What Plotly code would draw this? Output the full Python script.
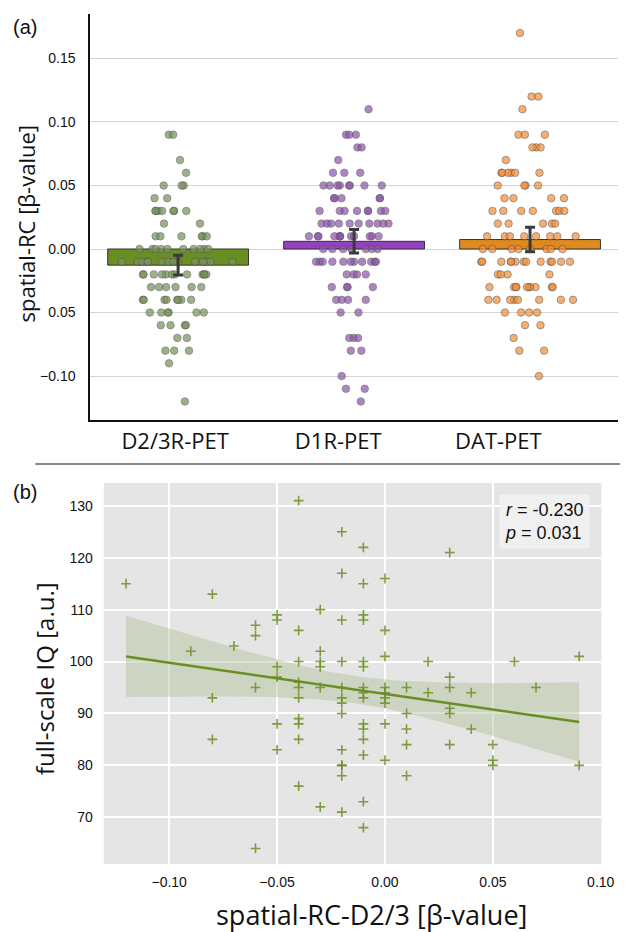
import numpy as np
import plotly.graph_objects as go

# ---------------- Panel (a) data ----------------
categories = ["D2/3R-PET", "D1R-PET", "DAT-PET"]
label_offsets = [-0.017, -0.09, -0.18]

d23_values = [0.09, 0.09, 0.07, 0.06, 0.05, 0.05, 0.05, 0.04, 0.04,
              0.03, 0.03, 0.03, 0.03, 0.03, 0.03, 0.03, 0.02, 0.02,
              0.01, 0.01, 0.01, 0.01, 0.01, 0.01,
              0.00, 0.00, 0.00, 0.00, 0.00, 0.00, 0.00, 0.00, 0.00, 0.00,
              -0.01, -0.01, -0.01, -0.01, -0.01, -0.01, -0.01, -0.01,
              -0.01, -0.01, -0.01, -0.01, -0.01, -0.01, -0.01, -0.01,
              -0.02, -0.02, -0.02, -0.02, -0.02, -0.02, -0.02, -0.02,
              -0.02, -0.02, -0.02, -0.02,
              -0.03, -0.03, -0.03, -0.03, -0.03, -0.03,
              -0.04, -0.04, -0.04, -0.04, -0.04, -0.04, -0.04, -0.04,
              -0.05, -0.05, -0.05, -0.05, -0.05, -0.05,
              -0.06, -0.06, -0.06, -0.06, -0.07, -0.07,
              -0.08, -0.08, -0.08, -0.09, -0.12]

d1r_values = [0.11, 0.09, 0.09, 0.09, 0.08, 0.08, 0.07, 0.06, 0.06, 0.06,
              0.05, 0.05, 0.05, 0.05, 0.05, 0.05, 0.05, 0.05,
              0.04, 0.04, 0.04, 0.04, 0.04,
              0.03, 0.03, 0.03, 0.03, 0.03, 0.03, 0.03, 0.03,
              0.02, 0.02, 0.02, 0.02, 0.02, 0.02, 0.02, 0.02, 0.02, 0.02,
              0.01, 0.01, 0.01, 0.01, 0.01, 0.01, 0.01, 0.01, 0.01, 0.01,
              0.01, 0.01,
              0.00, 0.00, 0.00, 0.00, 0.00, 0.00, 0.00,
              -0.01, -0.01, -0.01, -0.01, -0.01, -0.01, -0.01, -0.01,
              -0.01, -0.01, -0.01,
              -0.02, -0.02, -0.02, -0.02, -0.03, -0.03, -0.03, -0.03,
              -0.04, -0.04, -0.04, -0.04, -0.05, -0.05,
              -0.07, -0.07, -0.07, -0.08, -0.08, -0.10, -0.11, -0.11, -0.12]

dat_values = [0.17, 0.12, 0.12, 0.11, 0.09, 0.09, 0.09, 0.08, 0.08, 0.08,
              0.07, 0.06, 0.06, 0.06, 0.06, 0.06, 0.06,
              0.05, 0.05, 0.05, 0.05, 0.04, 0.04, 0.04, 0.04,
              0.03, 0.03, 0.03, 0.03, 0.03, 0.03, 0.03,
              0.02, 0.02, 0.02, 0.02, 0.02,
              0.01, 0.01, 0.01, 0.01, 0.01, 0.01, 0.01, 0.01,
              0.00, 0.00, 0.00, 0.00, 0.00, 0.00, 0.00, 0.00,
              -0.01, -0.01, -0.01, -0.01, -0.01, -0.01, -0.01, -0.01,
              -0.01, -0.01, -0.01, -0.01, -0.01,
              -0.02, -0.02, -0.02, -0.02,
              -0.03, -0.03, -0.03, -0.03, -0.03, -0.03, -0.03, -0.03,
              -0.03, -0.03,
              -0.04, -0.04, -0.04, -0.04, -0.04, -0.04, -0.04, -0.04,
              -0.05, -0.05, -0.05, -0.05, -0.06, -0.06, -0.07,
              -0.08, -0.08, -0.10]

y_tickvals_a = [-0.10, -0.05, 0.00, 0.05, 0.10, 0.15]
y_ticktext_a = ["\u22120.10", "0.05", "0.00", "0.05", "0.10", "0.15"]

# ---------------- Panel (b) data ----------------
rc_d23 = [-0.12,
          -0.09,
          -0.08, -0.08, -0.08,
          -0.07,
          -0.06, -0.06, -0.06, -0.06,
          -0.05, -0.05, -0.05, -0.05, -0.05, -0.05,
          -0.04, -0.04, -0.04, -0.04, -0.04, -0.04, -0.04, -0.04, -0.04, -0.04,
          -0.03, -0.03, -0.03, -0.03, -0.03, -0.03,
          -0.02, -0.02, -0.02, -0.02, -0.02, -0.02, -0.02, -0.02, -0.02,
          -0.02, -0.02, -0.02, -0.02,
          -0.01, -0.01, -0.01, -0.01, -0.01, -0.01, -0.01, -0.01, -0.01,
          -0.01, -0.01, -0.01, -0.01, -0.01, -0.01,
          0.00, 0.00, 0.00, 0.00, 0.00, 0.00, 0.00, 0.00, 0.00,
          0.01, 0.01, 0.01, 0.01, 0.01,
          0.02, 0.02,
          0.03, 0.03, 0.03, 0.03, 0.03, 0.03,
          0.04, 0.04,
          0.05, 0.05, 0.05,
          0.06,
          0.07,
          0.09, 0.09]
iq_values = [115,
             102,
             113, 93, 85,
             103,
             107, 105, 95, 64,
             109, 108, 99, 97, 88, 83,
             131, 106, 100, 96, 95, 93, 89, 88, 85, 76,
             110, 102, 100, 99, 95, 72,
             125, 117, 108, 100, 95, 93, 92, 90, 83, 80, 80, 78, 71,
             122, 115, 109, 108, 100, 99, 95, 94, 93, 88, 87, 85, 82, 73, 68,
             116, 106, 101, 95, 94, 93, 92, 88, 81,
             95, 90, 87, 84, 78,
             100, 94,
             121, 97, 95, 91, 90, 84,
             94, 87,
             84, 81, 80,
             100,
             95,
             101, 80]
stats_text = "<i>r</i> = -0.230<br><i>p</i> = 0.031"

# ---------------- styling ----------------
bar_colors = ["#6b8e23", "#9440c2", "#e08a1e"]
dot_colors = ["#76955a", "#8f56ad", "#f78f35"]
TITLE_FONT = "Open Sans"
TICK_FONT = "Liberation Sans, Arial, sans-serif"
W, H = 633, 932

fig = go.Figure()

groups = [d23_values, d1r_values, dat_values]
means = [float(np.mean(g)) for g in groups]
cis = [float(1.96 * np.std(g, ddof=1) / np.sqrt(len(g))) for g in groups]

fig.add_trace(go.Bar(
    x=[0, 1, 2], y=means, width=0.8,
    marker=dict(color=bar_colors, line=dict(color="#333333", width=1)),
    xaxis="x", yaxis="y", showlegend=False))

for i, g in enumerate(groups):
    fig.add_trace(go.Box(
        x=[i] * len(g), y=g, boxpoints="all", jitter=1, pointpos=0, width=0.66,
        fillcolor="rgba(0,0,0,0)", line=dict(width=0, color="rgba(0,0,0,0)"),
        marker=dict(size=7.5, color=dot_colors[i], opacity=0.72,
                    line=dict(width=0.8, color="#555555")),
        hoveron="points", xaxis="x", yaxis="y", showlegend=False))

fig.add_trace(go.Scatter(
    x=[0, 1, 2], y=means, mode="markers", marker=dict(opacity=0),
    error_y=dict(type="data", array=cis, color="#3a3a3a", thickness=3, width=5),
    xaxis="x", yaxis="y", showlegend=False))

# ---- panel (b): regression with 95% CI band
xb = np.array(rc_d23, dtype=float)
yb = np.array(iq_values, dtype=float)
slope, intercept = np.polyfit(xb, yb, 1)
n = len(xb)
resid = yb - (slope * xb + intercept)
s = np.sqrt(np.sum(resid ** 2) / (n - 2))
sxx = np.sum((xb - xb.mean()) ** 2)
xg = np.linspace(xb.min(), xb.max(), 100)
yg = slope * xg + intercept
se = s * np.sqrt(1.0 / n + (xg - xb.mean()) ** 2 / sxx)
t = 1.96
upper = yg + t * se
lower = yg - t * se

fig.add_trace(go.Scatter(
    x=np.concatenate([xg, xg[::-1]]), y=np.concatenate([upper, lower[::-1]]),
    fill="toself", fillcolor="rgba(175,190,150,0.45)", line=dict(width=0),
    mode="lines", hoverinfo="skip", xaxis="x2", yaxis="y2", showlegend=False))
fig.add_trace(go.Scatter(
    x=xb, y=yb, mode="markers",
    marker=dict(symbol="cross-thin", size=7,
                line=dict(width=1.6, color="rgba(107,142,35,0.85)")),
    xaxis="x2", yaxis="y2", showlegend=False))
fig.add_trace(go.Scatter(
    x=xg, y=yg, mode="lines", line=dict(color="#6b8e23", width=2.5),
    xaxis="x2", yaxis="y2", showlegend=False))

def px_x(p):
    return p / W

def px_y(p):
    return 1 - p / H

fig.update_layout(
    width=W, height=H, margin=dict(l=0, r=0, t=0, b=0),
    paper_bgcolor="white", plot_bgcolor="rgba(0,0,0,0)",
    showlegend=False,
    xaxis=dict(domain=[px_x(92), px_x(631)], anchor="y", range=[-0.5, 2.5],
               tickvals=[i + o for i, o in enumerate(label_offsets)],
               ticktext=categories, showgrid=False, zeroline=False,
               showline=True, linecolor="#111111", linewidth=1.5,
               ticks="", ticklabelstandoff=1,
               tickfont=dict(family=TITLE_FONT, size=22, color="#111111")),
    yaxis=dict(domain=[px_y(420), px_y(14)], anchor="x",
               range=[-0.1346, 0.185], tickvals=y_tickvals_a,
               ticktext=y_ticktext_a, showgrid=True, gridcolor="#d4d4d4",
               gridwidth=1.3, zeroline=False, showline=True,
               linecolor="#111111", linewidth=1.5, ticks="",
               ticklabelstandoff=10,
               tickfont=dict(family=TICK_FONT, size=14, color="#111111")),
    xaxis2=dict(domain=[px_x(106), px_x(614)], anchor="y2",
                range=[-0.1303, 0.1003],
                tickvals=[-0.10, -0.05, 0.0, 0.05, 0.10], tickformat=".2f",
                showgrid=True, gridcolor="white", gridwidth=1.5,
                zeroline=False, showline=False, ticks="",
                ticklabelstandoff=8,
                tickfont=dict(family=TICK_FONT, size=14, color="#111111")),
    yaxis2=dict(domain=[px_y(864), px_y(483)], anchor="x2",
                range=[61, 134.4], tickvals=[70, 80, 90, 100, 110, 120, 130],
                showgrid=True, gridcolor="white", gridwidth=1.5,
                zeroline=False, showline=False, ticks="",
                ticklabelstandoff=10,
                tickfont=dict(family=TICK_FONT, size=14, color="#111111")),
    shapes=[
        dict(type="rect", xref="x2 domain", yref="y2 domain", x0=0, x1=1,
             y0=0, y1=1, fillcolor="#e5e5e5", line=dict(width=0),
             layer="below"),
        dict(type="line", xref="paper", yref="paper", x0=px_x(36), x1=1,
             y0=px_y(464), y1=px_y(464), line=dict(color="#888888", width=2)),
    ],
    annotations=[
        dict(text="(a)", xref="paper", yref="paper", x=px_x(11), y=px_y(27),
             xanchor="left", yanchor="middle", showarrow=False,
             font=dict(family=TICK_FONT, size=20, color="#111111")),
        dict(text="(b)", xref="paper", yref="paper", x=px_x(11), y=px_y(492),
             xanchor="left", yanchor="middle", showarrow=False,
             font=dict(family=TICK_FONT, size=20, color="#111111")),
        dict(text="spatial-RC [\u03b2-value]", xref="paper", yref="paper",
             x=px_x(27), y=px_y(224), textangle=-90, showarrow=False,
             xanchor="center", yanchor="middle",
             font=dict(family=TITLE_FONT, size=22, color="#111111")),
        dict(text="full-scale IQ [a.u.]", xref="paper", yref="paper",
             x=px_x(45), y=px_y(679), textangle=-90, showarrow=False,
             xanchor="center", yanchor="middle",
             font=dict(family=TITLE_FONT, size=24, color="#111111")),
        dict(text="spatial-RC-D2/3 [\u03b2-value]", xref="paper", yref="paper",
             x=px_x(379), y=px_y(914), showarrow=False,
             xanchor="center", yanchor="middle",
             font=dict(family=TITLE_FONT, size=27, color="#111111")),
        dict(text=stats_text, xref="paper", yref="paper",
             x=px_x(556), y=px_y(521), showarrow=False,
             xanchor="center", yanchor="middle", align="left",
             bgcolor="rgba(242,242,242,0.85)", borderpad=5,
             font=dict(family=TICK_FONT, size=18, color="#111111")),
    ],
)

fig.write_html("out.html",
               config={"displayModeBar": False},
               post_script="document.body.style.margin='0px';"
                           "document.body.style.overflow='hidden';")
